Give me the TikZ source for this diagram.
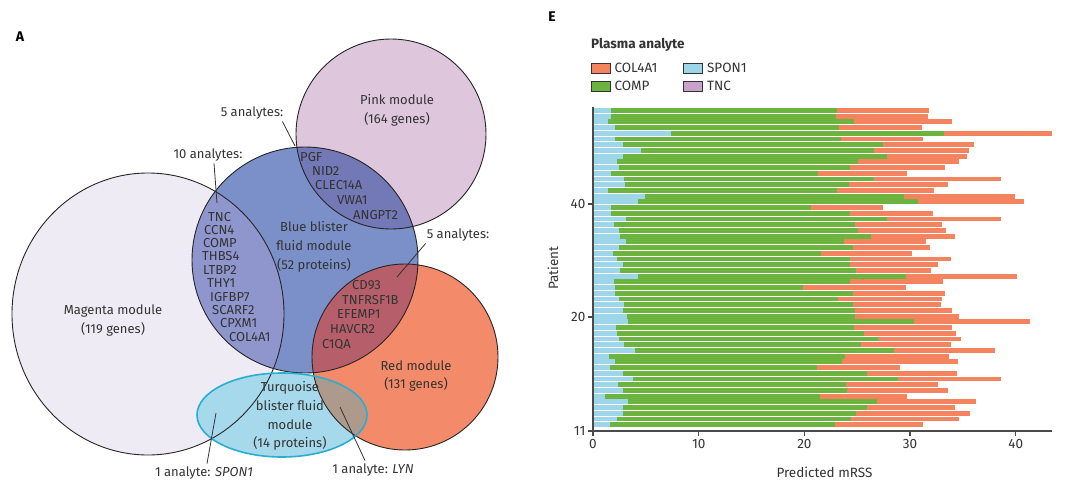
\documentclass[tikz,border=0pt]{standalone}
\usepackage{fontspec}
\setmainfont{Fira Sans}
\usetikzlibrary{positioning}
\definecolor{magentafill}{HTML}{EFEBF4}
\definecolor{bluefill}{HTML}{7B90C9}
\definecolor{bluemag}{HTML}{8E96CD}
\definecolor{pinkfill}{HTML}{DEC6DD}
\definecolor{bluepink}{HTML}{7378B6}
\definecolor{redfill}{HTML}{F38A69}
\definecolor{bluered}{HTML}{B65F6B}
\definecolor{turqfill}{HTML}{A6D9EB}
\definecolor{turqline}{HTML}{2AAED0}
\definecolor{turqred}{HTML}{AE9A8C}
\definecolor{sponcol}{HTML}{9ED6E9}
\definecolor{compcol}{HTML}{6DB33F}
\definecolor{colcol}{HTML}{F4845F}
\definecolor{tnccol}{HTML}{C9A2CB}
\definecolor{axiscol}{HTML}{4A4A4A}
\definecolor{txtcol}{HTML}{333333}
\tikzset{
  magentashape/.style={insert path={(148,314) ellipse [x radius=136, y radius=141]}},
  blueshape/.style={insert path={(305,260) circle (113)}},
  pinkshape/.style={insert path={(391,134) circle (95)}},
  redshape/.style={insert path={(405,357) circle (93)}},
  turqshape/.style={insert path={(282,415) ellipse [x radius=85, y radius=42]}},
  setline/.style={draw=black!85, line width=0.9pt},
  modlabel/.style={font=\fontsize{13}{18.7}\selectfont, align=center, text=txtcol, inner sep=0pt},
  genelabel/.style={font=\fontsize{13}{13}\selectfont, anchor=west, text=txtcol, inner sep=0pt},
  pointer/.style={draw=txtcol, line width=0.8pt},
  panel/.style={font=\fontsize{14}{16}\bfseries\selectfont, inner sep=0pt},
  keybox/.style={draw=black!80, line width=0.8pt, minimum width=19pt, minimum height=10pt, inner sep=0pt},
  keytext/.style={font=\fontsize{13.5}{15}\selectfont, text=txtcol, inner sep=0pt},
  ticklabel/.style={font=\fontsize{13.5}{15}\selectfont, text=txtcol, inner sep=0pt},
  axisline/.style={draw=axiscol, line width=1.3pt},
}
\begin{document}
\begin{tikzpicture}[x=1pt, y=-1pt]
  \path[use as bounding box] (0,0) rectangle (1080,491);

  % panel A: module overlap
  \node[panel] (titleA) at (20,37) {A};
  \fill[magentafill, magentashape];
  \fill[pinkfill, pinkshape];
  \fill[redfill, redshape];
  \fill[bluefill, blueshape];
  \begin{scope}
    \clip[magentashape];
    \fill[bluemag, blueshape];
  \end{scope}
  \begin{scope}
    \clip[pinkshape];
    \fill[bluepink, blueshape];
  \end{scope}
  \begin{scope}
    \clip[redshape];
    \fill[bluered, blueshape];
  \end{scope}
  \fill[turqfill, turqshape];
  \begin{scope}
    \clip[redshape];
    \fill[turqred, turqshape];
  \end{scope}
  \draw[setline, magentashape];
  \draw[setline, pinkshape];
  \draw[setline, redshape];
  \draw[setline, blueshape];
  \draw[draw=turqline, line width=1.6pt, turqshape];

  \node[modlabel] (pinklbl) at (397,110.5) {Pink module\\(164 genes)};
  \node[modlabel] (maglbl) at (113,320.5) {Magenta module\\(119 genes)};
  \node[modlabel] (bluelbl) at (314,247) {Blue blister\\fluid module\\(52 proteins)};
  \node[modlabel] (redlbl) at (416,376) {Red module\\(131 genes)};
  \node[modlabel] (turqlbl) at (290,416) {Turquoise\\blister fluid\\module\\(14 proteins)};

  % shared analytes
  \foreach \g/\gx/\gy [count=\i] in {TNC/208/217, CCN4/204/230, COMP/203/243,
      THBS4/202/256, LTBP2/203/270, THY1/207/283, IGFBP7/210/297,
      SCARF2/212/310, CPXM1/220/323, COL4A1/229/337}
    \node[genelabel] (magblue\i) at (\gx,\gy) {\g};
  \foreach \g/\gx/\gy [count=\i] in {PGF/300/157, NID2/312/171, CLEC14A/315/185,
      VWA1/337/200, ANGPT2/353/215}
    \node[genelabel] (pinkblue\i) at (\gx,\gy) {\g};
  \foreach \g/\gx/\gy [count=\i] in {CD93/352/285, TNFRSF1B/342/300, EFEMP1/337/314,
      HAVCR2/330/329, C1QA/322/345}
    \node[genelabel] (redblue\i) at (\gx,\gy) {\g};

  \node[modlabel] (fivepink) at (252,113) {5 analytes:};
  \node[modlabel] (tenmag) at (208,155) {10 analytes:};
  \node[modlabel] (fivered) at (458,235) {5 analytes:};
  \node[modlabel] (onespon) at (204,473) {1 analyte: \textit{SPON1}};
  \node[modlabel] (onelyn) at (373,470) {1 analyte: \textit{LYN}};
  \coordinate (pinkhit) at (295,146);
  \coordinate (maghit) at (217,203);
  \coordinate (redhit) at (397,277);
  \coordinate (sponhit) at (216,413);
  \coordinate (lynhit) at (340,407);
  \draw[pointer] ([xshift=-1pt,yshift=-2pt]fivepink.south east) -- (pinkhit);
  \draw[pointer] ([xshift=6pt,yshift=-2pt]tenmag.south) -- (maghit);
  \draw[pointer] ([xshift=-1pt,yshift=-2pt]fivered.south west) -- (redhit);
  \draw[pointer] ([xshift=3pt,yshift=3pt]onespon.north) -- (sponhit);
  \draw[pointer] ([xshift=-8pt,yshift=3pt]onelyn.north) -- (lynhit);

  % panel E: predicted mRSS per patient
  \node[panel] (titleE) at (552,17) {E};
  \node[keytext, font=\fontsize{13.5}{15}\bfseries\selectfont, anchor=west] (keyhead) at (591,45) {Plasma analyte};
  \node[keybox, fill=colcol] (keycol) at (600.5,68) {};
  \node[keytext, right=4pt of keycol] (keycoltxt) {COL4A1};
  \node[keybox, fill=sponcol] (keyspon) at (693,68) {};
  \node[keytext, right=4pt of keyspon] (keyspontxt) {SPON1};
  \node[keybox, fill=compcol] (keycomp) at (600.5,86) {};
  \node[keytext, right=4pt of keycomp] (keycomptxt) {COMP};
  \node[keybox, fill=tnccol] (keytnc) at (693,86) {};
  \node[keytext, right=4pt of keytnc] (keytnctxt) {TNC};

  \begin{scope}[shift={(593,108)}, x=10.57pt]
    \foreach \s/\c/\r [count=\i] in {
        1.7/23.1/31.8, 1.7/23.0/31.7, 1.4/24.7/34.0, 2.1/23.3/31.1,
        7.4/33.2/43.4, 2.1/23.5/31.2, 2.8/27.4/36.0, 4.5/26.6/35.6,
        2.8/27.8/35.4, 2.3/25.1/34.6, 2.5/24.3/33.3, 1.7/21.3/29.7,
        2.9/26.6/38.6, 3.0/24.2/33.6, 1.4/23.1/32.3, 4.9/29.4/39.9,
        4.3/30.7/40.8, 1.7/20.6/27.4, 1.7/24.3/32.2, 3.1/27.8/38.6,
        2.0/24.8/33.0, 2.5/25.1/33.4, 2.6/26.3/34.2, 3.1/23.7/31.5,
        2.5/24.6/31.9, 1.9/21.6/30.2, 2.3/24.3/33.9, 2.8/24.3/32.6,
        2.6/24.9/32.0, 4.3/29.6/40.1, 2.0/24.3/33.1, 2.1/19.9/29.6,
        2.1/24.6/33.3, 2.5/23.2/33.0, 2.9/24.6/32.9, 2.8/24.8/34.0,
        3.2/24.8/34.6, 3.3/30.4/41.3, 2.2/24.7/34.0, 2.3/25.6/34.3,
        2.5/27.0/34.8, 2.9/25.4/33.9, 4.0/28.5/38.0, 1.5/23.8/33.7,
        2.1/23.6/34.5, 1.6/21.2/29.0, 2.8/25.9/34.4, 3.8/28.9/38.6,
        2.4/23.9/32.6, 2.8/24.0/33.6, 1.1/21.5/29.7, 3.3/26.9/36.2,
        2.8/25.9/34.2, 2.8/24.9/35.7, 2.3/24.4/34.6, 1.6/22.9/31.2} {
      \pgfmathsetmacro\yt{(\i-1)*5.714}
      \fill[sponcol] (0,\yt) rectangle (\s,\yt+4.9);
      \fill[compcol] (\s,\yt) rectangle (\c,\yt+4.9);
      \fill[colcol] (\c,\yt) rectangle (\r,\yt+4.9);
    }
    \draw[axisline] (0,-1) -- (0,323);
    \draw[axisline] (0,323) -- (43.4,323);
    \foreach \v in {0,10,...,40} {
      \draw[axisline] (\v,323) -- (\v,328);
      \node[ticklabel, anchor=north] (xtick\v) at (\v,331) {\v};
    }
    \foreach \p/\py in {11/323, 20/209, 40/96} {
      \draw[axisline] (0,\py) -- (-0.5,\py);
      \node[ticklabel, anchor=east] (ytick\p) at (-0.7,\py) {\p};
    }
    \node[ticklabel] (xname) at (21.9,364) {Predicted mRSS};
    \node[ticklabel, rotate=90] (yname) at (-3.8,160) {Patient};
  \end{scope}
\end{tikzpicture}
\end{document}
